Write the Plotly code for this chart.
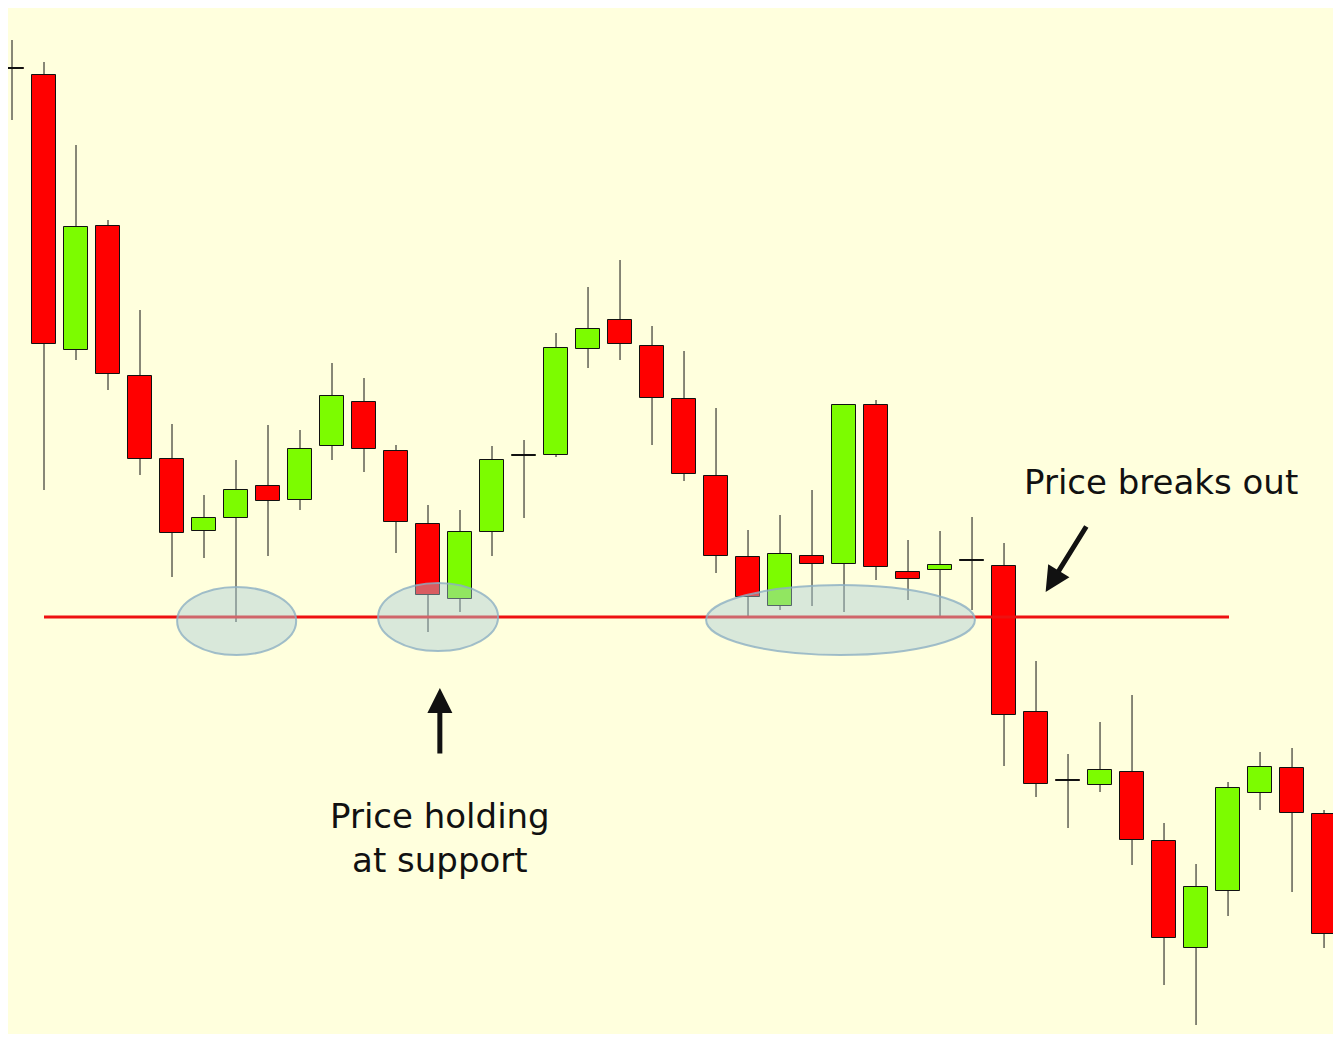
import plotly.graph_objects as go

# candle data (price units, arbitrary scale)
opens = [974, 967, 692, 816, 666, 583, 511, 524, 556, 542, 596, 640, 591, 518, 443, 510, 586, 587, 693, 722, 696,
         643, 566, 485, 436, 486, 478, 637, 470, 472, 482, 476, 330, 262, 257, 270, 201, 94, 151, 249, 274, 228]
highs = [1002, 980, 897, 822, 732, 618, 547, 582, 617, 612, 679, 664, 597, 537, 532, 596, 602, 709, 755, 782, 716,
         691, 634, 512, 527, 552, 637, 642, 502, 511, 525, 499, 381, 288, 320, 347, 219, 178, 260, 290, 294, 232]
lows = [922, 552, 682, 652, 567, 465, 484, 420, 486, 532, 582, 570, 489, 410, 430, 486, 524, 585, 674, 682, 597,
        561, 469, 425, 432, 436, 430, 462, 442, 425, 432, 276, 245, 214, 250, 177, 57, 17, 126, 232, 150, 94]
closes = [973, 698, 815, 668, 583, 509, 524, 552, 541, 593, 646, 593, 520, 447, 510, 582, 587, 694, 713, 698, 644,
          568, 486, 445, 488, 478, 637, 475, 463, 477, 481, 327, 258, 261, 272, 202, 104, 155, 254, 275, 229, 108]
idx = list(range(len(opens)))

support = 425
zones = [(5.16, 8.88, 387, 455), (11.44, 15.19, 391, 459), (21.69, 30.09, 387, 457)]

fig = go.Figure()

# wicks (split so they do not cross the bodies)
wx, wy = [], []
for i in idx:
    lo_b, hi_b = min(opens[i], closes[i]), max(opens[i], closes[i])
    wx += [i, i, None, i, i, None]
    wy += [lows[i], lo_b, None, hi_b, highs[i], None]
fig.add_trace(go.Scatter(x=wx, y=wy, mode="lines", line=dict(color="#111111", width=1),
                         showlegend=False, hoverinfo="skip"))

# bodies
base = [min(o, c) for o, c in zip(opens, closes)]
height = [max(abs(c - o), 1.5) for o, c in zip(opens, closes)]
colors = ["#7CFC00" if c > o else ("#111111" if i in (16, 30) else "#FF0000")
          for i, (o, c) in enumerate(zip(opens, closes))]
fig.add_trace(go.Bar(x=idx, y=height, base=base, width=0.75,
                     marker=dict(color=colors, line=dict(color="#111111", width=1)),
                     showlegend=False, hoverinfo="skip"))

shapes = [dict(type="line", x0=1.0, x1=38.03, y0=support, y1=support,
               line=dict(color="#EE1111", width=3))]
for x0, x1, y0, y1 in zones:
    shapes.append(dict(type="circle", x0=x0, x1=x1, y0=y0, y1=y1, layer="above",
                       fillcolor="rgba(170,205,215,0.45)", line=dict(color="rgba(140,175,195,0.8)", width=2)))

font = dict(family="DejaVu Sans", size=34, color="#111111")
annotations = [
    dict(x=13.37, y=354, ax=13.37, ay=287, axref="x", ayref="y", text="", showarrow=True,
         arrowhead=2, arrowsize=1, arrowwidth=5, arrowcolor="#111111"),
    dict(x=13.37, y=204, text="Price holding<br>at support", showarrow=False, font=font),
    dict(x=32.3, y=450, ax=33.6, ay=517, axref="x", ayref="y", text="", showarrow=True,
         arrowhead=2, arrowsize=1, arrowwidth=5, arrowcolor="#111111"),
    dict(x=35.9, y=560, text="Price breaks out", showarrow=False, font=font),
]

fig.update_layout(
    width=1325, height=1026, margin=dict(l=0, r=0, t=0, b=0),
    paper_bgcolor="#FFFFDD", plot_bgcolor="#FFFFDD", bargap=0,
    xaxis=dict(range=[-0.125, 41.28], visible=False),
    yaxis=dict(range=[8, 1034], visible=False),
    shapes=shapes, annotations=annotations)

fig.write_html("out.html")
